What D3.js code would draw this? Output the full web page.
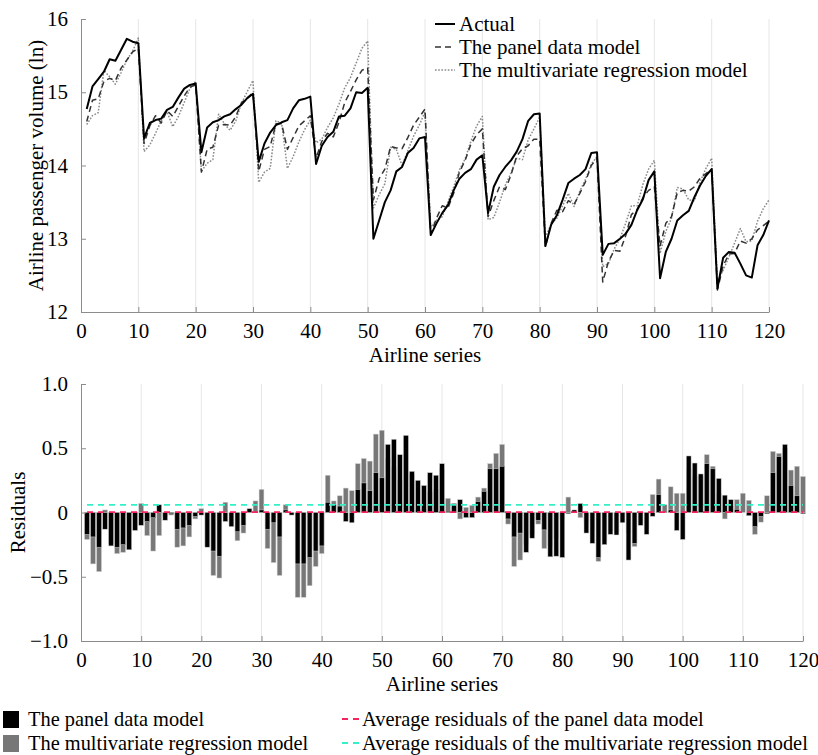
<!DOCTYPE html>
<html>
<head>
<meta charset="utf-8">
<script src="https://cdn.jsdelivr.net/npm/d3@7"></script>
<style>
  body { margin: 0; background: #fff; }
  svg text { font-family: "Liberation Serif", Tinos, "Times New Roman", Times, "DejaVu Serif", serif !important; fill: #000; }
</style>
</head>
<body>
<script>
// airline series 1..120
var series = d3.range(1, 121);

var actual = [
  14.77, 15.08, 15.18, 15.28, 15.45, 15.43, 15.58, 15.73, 15.69, 15.67,
  14.37, 14.58, 14.62, 14.64, 14.76, 14.80, 14.93, 15.05, 15.10, 15.12,
  14.18, 14.52, 14.59, 14.62, 14.67, 14.70, 14.77, 14.83, 14.92, 14.98,
  14.05, 14.30, 14.45, 14.55, 14.59, 14.62, 14.78, 14.89, 14.91, 14.94,
  14.02, 14.27, 14.39, 14.46, 14.67, 14.68, 14.78, 15.00, 14.99, 15.06,
  13.00, 13.25, 13.50, 13.66, 13.92, 13.98, 14.17, 14.24, 14.37, 14.39,
  13.05, 13.21, 13.35, 13.46, 13.66, 13.82, 13.90, 13.95, 14.08, 14.14,
  13.35, 13.71, 13.87, 13.98, 14.07, 14.19, 14.36, 14.61, 14.70, 14.71,
  12.90, 13.19, 13.32, 13.53, 13.76, 13.82, 13.87, 13.95, 14.17, 14.18,
  12.78, 12.93, 12.94, 13.00, 13.07, 13.19, 13.39, 13.54, 13.80, 13.92,
  12.46, 12.82, 13.00, 13.25, 13.32, 13.38, 13.57, 13.73, 13.86, 13.95,
  12.32, 12.74, 12.82, 12.81, 12.66, 12.50, 12.47, 12.91, 13.05, 13.25
];

var panelFit = [
  14.60, 14.89, 14.91, 15.15, 15.19, 15.16, 15.33, 15.44, 15.55, 15.60,
  14.30, 14.54, 14.68, 14.58, 14.75, 14.67, 14.81, 14.95, 15.07, 15.10,
  13.91, 14.22, 14.25, 14.55, 14.56, 14.55, 14.67, 14.86, 14.92, 15.00,
  13.92, 14.22, 14.26, 14.57, 14.57, 14.22, 14.38, 14.54, 14.61, 14.68,
  14.10, 14.33, 14.44, 14.39, 14.59, 14.86, 15.01, 15.17, 15.30, 15.33,
  13.53, 13.82, 13.95, 14.26, 14.24, 14.23, 14.38, 14.55, 14.66, 14.77,
  13.06, 13.28, 13.45, 13.42, 13.62, 13.91, 14.07, 14.29, 14.42, 14.50,
  13.30, 13.52, 13.71, 13.67, 13.87, 14.13, 14.23, 14.27, 14.36, 14.36,
  12.89, 13.21, 13.39, 13.37, 13.52, 13.47, 13.62, 13.78, 14.00, 14.10,
  12.41, 12.69, 12.84, 12.83, 13.04, 13.33, 13.40, 13.56, 13.66, 13.71,
  12.90, 13.21, 13.30, 13.63, 13.66, 13.65, 13.71, 13.83, 13.89, 13.95,
  12.30, 12.63, 12.79, 12.80, 12.97, 12.94, 13.00, 13.12, 13.18, 13.24
];

var multiFit = [
  14.56, 14.68, 14.72, 15.30, 15.21, 15.11, 15.27, 15.44, 15.56, 15.74,
  14.19, 14.28, 14.44, 14.61, 14.74, 14.53, 14.67, 14.86, 15.05, 15.15,
  13.92, 14.03, 14.08, 14.70, 14.57, 14.48, 14.61, 14.85, 15.01, 15.16,
  13.77, 13.91, 13.96, 14.61, 14.58, 13.96, 14.12, 14.32, 14.49, 14.62,
  14.31, 14.36, 14.52, 14.65, 14.84, 15.06, 15.20, 15.40, 15.60, 15.70,
  13.42, 13.60, 13.75, 14.25, 14.22, 14.00, 14.20, 14.40, 14.55, 14.73,
  13.16, 13.25, 13.30, 13.50, 13.71, 13.94, 14.09, 14.33, 14.54, 14.67,
  13.26, 13.29, 13.50, 13.73, 13.90, 14.10, 14.08, 14.35, 14.50, 14.66,
  13.02, 13.20, 13.28, 13.45, 13.62, 13.44, 13.65, 13.81, 14.02, 14.12,
  12.62, 12.66, 12.86, 13.00, 13.21, 13.45, 13.45, 13.74, 13.95, 14.07,
  12.80, 13.10, 13.28, 13.70, 13.68, 13.53, 13.52, 13.78, 13.96, 14.10,
  12.42, 12.57, 12.75, 12.94, 13.14, 12.96, 12.97, 13.24, 13.41, 13.53
];

// residuals (bottom panel)
var panelRes = [
  -0.17, -0.19, -0.27, -0.13, -0.26, -0.27, -0.25, -0.29, -0.14, -0.10,
  -0.07, -0.04, 0.06, -0.06, -0.01, -0.13, -0.12, -0.10, -0.03, -0.02,
  -0.27, -0.30, -0.34, -0.07, -0.11, -0.15, -0.10, 0.03, 0.00, 0.02,
  -0.13, -0.08, -0.19, 0.02, -0.02, -0.40, -0.40, -0.35, -0.30, -0.26,
  0.08, 0.06, 0.05, -0.07, -0.08, 0.18, 0.23, 0.17, 0.31, 0.27,
  0.53, 0.57, 0.45, 0.60, 0.32, 0.25, 0.21, 0.31, 0.29, 0.38,
  0.01, 0.07, 0.10, -0.04, -0.04, 0.085, 0.165, 0.34, 0.34, 0.36,
  -0.05, -0.19, -0.16, -0.31, -0.20, -0.06, -0.135, -0.345, -0.34, -0.35,
  -0.01, 0.02, 0.07, -0.16, -0.24, -0.35, -0.25, -0.17, -0.175, -0.08,
  -0.37, -0.24, -0.10, -0.17, -0.03, 0.14, 0.01, 0.02, -0.14, -0.21,
  0.44, 0.385, 0.30, 0.38, 0.34, 0.265, 0.135, 0.10, 0.025, 0.00,
  -0.025, -0.11, -0.03, -0.01, 0.31, 0.435, 0.53, 0.21, 0.13, -0.01
];

var multiRes = [
  -0.21, -0.40, -0.46, 0.02, -0.24, -0.32, -0.31, -0.29, -0.13, 0.07,
  -0.18, -0.30, -0.18, -0.03, -0.02, -0.27, -0.26, -0.19, -0.05, 0.03,
  -0.26, -0.49, -0.51, 0.08, -0.10, -0.22, -0.16, 0.02, 0.09, 0.18,
  -0.28, -0.39, -0.49, 0.06, -0.01, -0.66, -0.66, -0.57, -0.42, -0.32,
  0.29, 0.09, 0.13, 0.19, 0.17, 0.38, 0.42, 0.40, 0.61, 0.64,
  0.42, 0.35, 0.25, 0.59, 0.30, 0.02, 0.03, 0.16, 0.18, 0.34,
  0.11, 0.04, -0.05, 0.04, 0.055, 0.12, 0.19, 0.38, 0.46, 0.53,
  -0.09, -0.42, -0.37, -0.25, -0.17, -0.09, -0.28, -0.26, -0.20, -0.05,
  0.12, 0.01, -0.04, -0.08, -0.14, -0.38, -0.22, -0.14, -0.15, -0.06,
  -0.16, -0.265, -0.08, -0.005, 0.14, 0.26, 0.06, 0.20, 0.15, 0.15,
  0.34, 0.28, 0.28, 0.45, 0.36, 0.15, -0.05, 0.05, 0.10, 0.15,
  0.095, -0.17, -0.075, 0.13, 0.475, 0.46, 0.50, 0.33, 0.36, 0.28
];

var avgPanelRes = 0.003;
var avgMultiRes = 0.06;

var xTicks = d3.range(0, 121, 10);
var topYTicks = [12, 13, 14, 15, 16];
var botYTicks = [-1, -0.5, 0, 0.5, 1];

var lineNames = ["Actual", "The panel data model", "The multivariate regression model"];
var barNames = ["The panel data model", "The multivariate regression model"];
var avgNames = ["Average residuals of the panel data model", "Average residuals of the multivariate regression model"];

var W = 818, H = 755, fs = 21, legFs = 20.4;
var axisCol = "#8c8c8c", gridCol = "#e6e6e6";

var svg = d3.select("body").append("svg")
    .attr("width", W)
    .attr("height", H);

function styleAxis(g) {
  g.attr("font-family", null);
  g.select(".domain").attr("stroke", axisCol);
  g.selectAll(".tick line").attr("stroke", axisCol);
  g.selectAll(".tick text").attr("font-size", fs).attr("fill", "#000");
}

// ---------- top panel ----------
var x1 = d3.scaleLinear().domain([0, 120]).range([81, 769]);
var y1 = d3.scaleLinear().domain([12, 16]).range([312, 19]);

svg.append("g").selectAll("line")
    .data(xTicks.slice(1))
  .enter().append("line")
    .attr("x1", function(d) { return x1(d); })
    .attr("x2", function(d) { return x1(d); })
    .attr("y1", y1(12)).attr("y2", y1(16))
    .attr("stroke", gridCol);

svg.append("g")
    .attr("transform", "translate(0," + y1(12) + ")")
    .call(d3.axisBottom(x1).tickValues(xTicks).tickFormat(d3.format("d"))
      .tickSizeInner(-5).tickSizeOuter(0).tickPadding(11))
    .call(styleAxis);

svg.append("g")
    .attr("transform", "translate(" + x1(0) + ",0)")
    .call(d3.axisLeft(y1).tickValues(topYTicks).tickFormat(d3.format("d"))
      .tickSizeInner(-5).tickSizeOuter(0).tickPadding(13))
    .call(styleAxis);

var line = d3.line()
    .x(function(d, i) { return x1(series[i]); })
    .y(function(d) { return y1(d); });

var lineStyles = [
  {data: actual, stroke: "#000", width: 2, dash: null},
  {data: panelFit, stroke: "#333", width: 1.5, dash: "6,4"},
  {data: multiFit, stroke: "#8a8a8a", width: 1.5, dash: "1.6,1.6"}
];

svg.append("g").selectAll("path")
    .data(lineStyles.slice().reverse())
  .enter().append("path")
    .attr("fill", "none")
    .attr("stroke", function(d) { return d.stroke; })
    .attr("stroke-width", function(d) { return d.width; })
    .attr("stroke-dasharray", function(d) { return d.dash; })
    .attr("stroke-linejoin", "round")
    .attr("d", function(d) { return line(d.data); });

svg.append("text")
    .attr("transform", "translate(43," + ((y1(12) + y1(16)) / 2) + ") rotate(-90)")
    .attr("text-anchor", "middle")
    .attr("font-size", fs)
    .text("Airline passenger volume (ln)");

svg.append("text")
    .attr("x", (x1(0) + x1(120)) / 2).attr("y", 362)
    .attr("text-anchor", "middle")
    .attr("font-size", fs)
    .text("Airline series");

var leg1 = svg.append("g").selectAll("g")
    .data(lineStyles)
  .enter().append("g")
    .attr("transform", function(d, i) { return "translate(435," + (24 + i * 23) + ")"; });
leg1.append("line")
    .attr("x1", 0).attr("x2", 20)
    .attr("stroke", function(d) { return d.stroke; })
    .attr("stroke-width", function(d) { return d.width; })
    .attr("stroke-dasharray", function(d) { return d.dash; });
leg1.append("text")
    .attr("x", 24).attr("y", 7)
    .attr("font-size", fs)
    .text(function(d, i) { return lineNames[i]; });

// ---------- bottom panel ----------
var x2 = d3.scaleLinear().domain([0, 120]).range([81, 803]);
var y2 = d3.scaleLinear().domain([-1, 1]).range([641, 384]);
var bw = (x2(1) - x2(0)) * 0.8;

svg.append("g").selectAll("line")
    .data(xTicks.slice(1))
  .enter().append("line")
    .attr("x1", function(d) { return x2(d); })
    .attr("x2", function(d) { return x2(d); })
    .attr("y1", y2(-1)).attr("y2", y2(1))
    .attr("stroke", gridCol);

function bars(values, fill) {
  svg.append("g").selectAll("rect")
      .data(values)
    .enter().append("rect")
      .attr("x", function(d, i) { return x2(series[i]) - bw / 2; })
      .attr("width", bw)
      .attr("y", function(d) { return y2(Math.max(0, d)); })
      .attr("height", function(d) { return Math.abs(y2(d) - y2(0)); })
      .attr("fill", fill)
      .attr("stroke", "#d0d0d0")
      .attr("stroke-width", 0.5);
}
bars(multiRes, "#777");
bars(panelRes, "#000");

svg.append("g")
    .attr("transform", "translate(0," + y2(-1) + ")")
    .call(d3.axisBottom(x2).tickValues(xTicks).tickFormat(d3.format("d"))
      .tickSizeInner(-5).tickSizeOuter(0).tickPadding(11))
    .call(styleAxis);

svg.append("g")
    .attr("transform", "translate(" + x2(0) + ",0)")
    .call(d3.axisLeft(y2).tickValues(botYTicks).tickSizeInner(-5).tickSizeOuter(0).tickPadding(13)
      .tickFormat(function(d) { return d === 0 ? "0" : d3.format(".1f")(d); }))
    .call(styleAxis);

var avgLines = [
  {v: avgMultiRes, stroke: "#33f0c8"},
  {v: avgPanelRes, stroke: "#f5245e"}
];
svg.append("g").selectAll("line")
    .data(avgLines)
  .enter().append("line")
    .attr("x1", x2(1)).attr("x2", x2(120))
    .attr("y1", function(d) { return y2(d.v); })
    .attr("y2", function(d) { return y2(d.v); })
    .attr("stroke", function(d) { return d.stroke; })
    .attr("stroke-width", 1.8)
    .attr("stroke-dasharray", "6,5");

svg.append("text")
    .attr("transform", "translate(25," + ((y2(-1) + y2(1)) / 2) + ") rotate(-90)")
    .attr("text-anchor", "middle")
    .attr("font-size", fs)
    .text("Residuals");

svg.append("text")
    .attr("x", (x2(0) + x2(120)) / 2).attr("y", 691)
    .attr("text-anchor", "middle")
    .attr("font-size", fs)
    .text("Airline series");

// bottom legend
var barCols = ["#000", "#777"];
var leg2 = svg.append("g").selectAll("g")
    .data(barNames)
  .enter().append("g")
    .attr("transform", function(d, i) { return "translate(3," + (719 + i * 24) + ")"; });
leg2.append("rect")
    .attr("x", 0).attr("y", -8).attr("width", 16).attr("height", 17)
    .attr("fill", function(d, i) { return barCols[i]; });
leg2.append("text")
    .attr("x", 25).attr("y", 7)
    .attr("font-size", legFs)
    .text(function(d) { return d; });

var avgCols = ["#f5245e", "#33f0c8"];
var leg3 = svg.append("g").selectAll("g")
    .data(avgNames)
  .enter().append("g")
    .attr("transform", function(d, i) { return "translate(342," + (719 + i * 24) + ")"; });
leg3.append("line")
    .attr("x1", 0).attr("x2", 18)
    .attr("stroke", function(d, i) { return avgCols[i]; })
    .attr("stroke-width", 1.8)
    .attr("stroke-dasharray", "6,5");
leg3.append("text")
    .attr("x", 20).attr("y", 7)
    .attr("font-size", legFs)
    .text(function(d) { return d; });
</script>
</body>
</html>
